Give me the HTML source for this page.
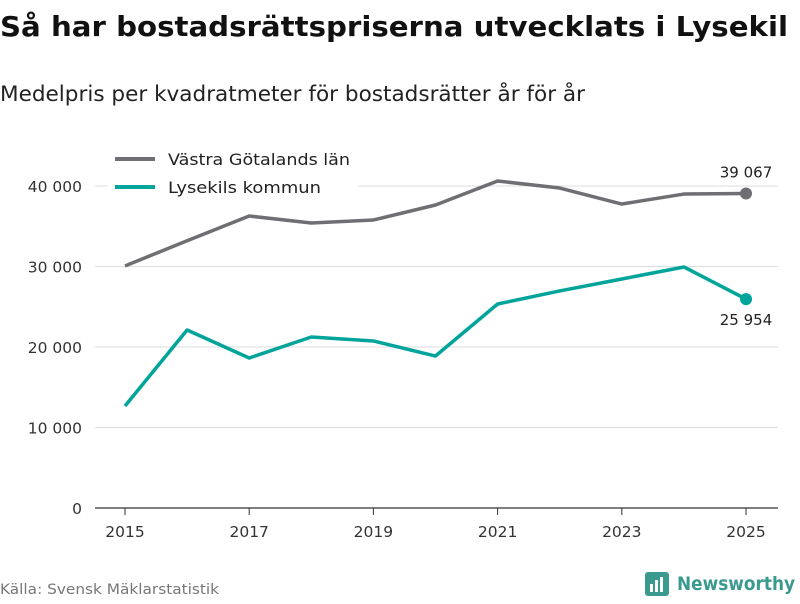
<!DOCTYPE html>
<html><head><meta charset="utf-8"><style>
body{margin:0;background:#fff;width:800px;height:600px;overflow:hidden;font-family:"DejaVu Sans","Liberation Sans",sans-serif;}
</style></head><body>
<svg width="800" height="600" xmlns="http://www.w3.org/2000/svg" id="svg">
<text x="0" y="36" font-size="28" font-weight="bold" fill="#111" textLength="788" lengthAdjust="spacingAndGlyphs">Så har bostadsrättspriserna utvecklats i Lysekil</text>
<text x="0" y="101" font-size="21" fill="#222" textLength="585" lengthAdjust="spacingAndGlyphs">Medelpris per kvadratmeter för bostadsrätter år för år</text>
<g id="grid"></g><g id="lines"></g>
<g>
<rect x="108" y="145" width="250" height="58" fill="#fff"/>
<line x1="115" y1="159" x2="155" y2="159" stroke="#6f6e73" stroke-width="4"/>
<text x="168" y="165" font-size="16" fill="#222" textLength="182" lengthAdjust="spacingAndGlyphs">Västra Götalands län</text>
<line x1="115" y1="187" x2="155" y2="187" stroke="#00a49a" stroke-width="4"/>
<text x="168" y="193" font-size="16" fill="#222" textLength="153" lengthAdjust="spacingAndGlyphs">Lysekils kommun</text>
</g>
<text x="0" y="594" font-size="14" fill="#777" textLength="219" lengthAdjust="spacingAndGlyphs">Källa: Svensk Mäklarstatistik</text>
<g>
<rect x="645" y="572" width="24" height="24" rx="3" fill="#3a9a8f"/>
<rect x="650" y="584" width="3" height="8" fill="#fff"/><rect x="655" y="580" width="3" height="12" fill="#fff"/><rect x="660" y="577" width="3" height="15" fill="#fff"/>
<text x="677" y="590" font-size="19" font-weight="bold" fill="#3a9a8f" textLength="118" lengthAdjust="spacingAndGlyphs">Newsworthy</text>
</g>
</svg>
<script>
const years=[2015,2016,2017,2018,2019,2020,2021,2022,2023,2024,2025];
const vastra=[30070,33200,36270,35400,35780,37640,40620,39750,37760,39000,39067];
const lysekil=[12670,22110,18630,21240,20750,18880,25340,26960,28450,29940,25954];
const yTicks=[0,10000,20000,30000,40000];
const xTicks=[2015,2017,2019,2021,2023,2025];
const NS="http://www.w3.org/2000/svg";
const x=v=>125+(v-2015)*62.1;
const y=v=>508-v*0.008050;
const fmt=v=>v.toLocaleString('sv-SE').replace(/\s/g,' ');
function mk(t,a,p){const e=document.createElementNS(NS,t);for(const k in a)e.setAttribute(k,a[k]);p.appendChild(e);return e;}
const g=document.getElementById('grid');
yTicks.forEach(t=>{
 const l=mk('line',{x1:95,x2:778,y1:y(t),y2:y(t),stroke:t===0?'#333':'#ddd','stroke-width':t===0?1.2:1},g);
 
 
 const tx=mk('text',{x:82,y:y(t)+6,'text-anchor':'end','font-size':15.5,fill:'#333'},g);tx.textContent=t===0?'0':fmt(t).replace(/\u00a0/g,' ');
 
 
});
xTicks.forEach(t=>{
 const l=mk('line',{x1:x(t),x2:x(t),y1:508,y2:515,stroke:'#333'},g);
 
 
 const tx=mk('text',{x:x(t),y:537,'text-anchor':'middle','font-size':15.5,fill:'#333'},g);tx.textContent=t;
 
 
});
const L=document.getElementById('lines');
function series(vals,col,name,lblDy){
 const p=mk('polyline',{points:vals.map((v,i)=>x(years[i])+','+y(v)).join(' '),fill:'none',stroke:col,'stroke-width':3.5,'stroke-linejoin':'round'},L);
 
 
 const n=vals.length-1;
 const c=mk('circle',{cx:x(years[n]),cy:y(vals[n]),r:6,fill:col},L);
 
 
 const t=mk('text',{x:x(years[n]),y:y(vals[n])+lblDy,'text-anchor':'middle','font-size':15,fill:'#222'},L);
 t.textContent=fmt(vals[n]).replace(/\u00a0/g,' ');
 
 
}
series(vastra,'#6f6e73','vastra-gotaland',-16);
series(lysekil,'#00a49a','lysekil',26);
</script>
</body></html>
